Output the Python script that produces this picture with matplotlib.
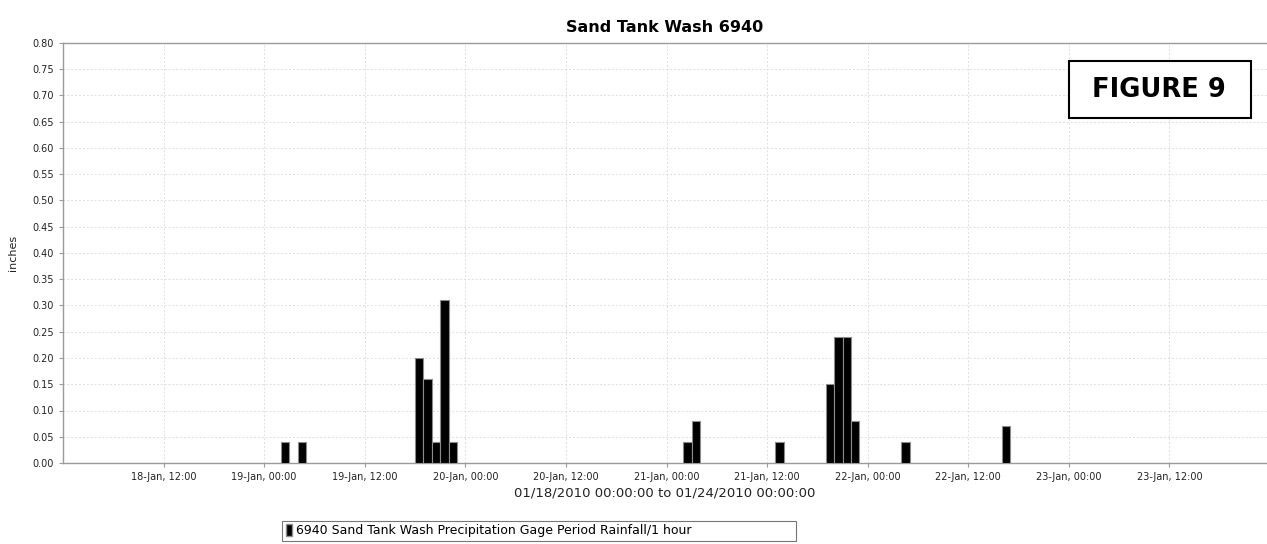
import matplotlib
matplotlib.use('Agg')
import matplotlib.pyplot as plt
import matplotlib.dates as mdates
from datetime import datetime, timedelta

# datos (hora de inicio del periodo, pulgadas)
inicio = datetime(2010, 1, 18, 0, 0)
horas = [26, 28, 42, 43, 44, 45, 46, 74, 75, 85, 91, 92, 93, 94, 100, 112]
lluvia = [0.04, 0.04, 0.20, 0.16, 0.04, 0.31, 0.04, 0.04, 0.08, 0.04,
          0.15, 0.24, 0.24, 0.08, 0.04, 0.07]
titulo = 'Sand Tank Wash 6940'
etiquetaSerie = '6940 Sand Tank Wash Precipitation Gage Period Rainfall/1 hour'
etiquetaX = '01/18/2010 00:00:00 to 01/24/2010 00:00:00'

fechas = [inicio + timedelta(hours=h) for h in horas]

fig = plt.figure(figsize=(12.67, 5.44), dpi=100)
ax = fig.add_axes([63 / 1267, 81 / 544, (1270 - 63) / 1267, 420 / 544])

gris = '#9a9a9a'
ax.bar(fechas, lluvia, width=1 / 24, align='edge', color='black',
       edgecolor='#8c8c8c', linewidth=0.8, zorder=3)

ax.set_xlim(inicio, inicio + timedelta(days=6))
ax.set_ylim(0, 0.80)
ax.set_yticks([i * 0.05 for i in range(17)])
ax.yaxis.set_major_formatter(plt.FuncFormatter(lambda v, p: '%.2f' % v))
ax.xaxis.set_major_formatter(mdates.DateFormatter('%d-%b, %H:%M'))
ticks = [inicio + timedelta(hours=12 * k) for k in range(1, 12)]
ax.set_xticks(ticks)

ax.grid(True, color='#dddddd', linestyle=(0, (2, 2)), linewidth=0.7, zorder=0)
for lado in ['left', 'bottom', 'top']:
    ax.spines[lado].set_color(gris)
    ax.spines[lado].set_linewidth(1.0)
ax.spines['right'].set_visible(False)
ax.tick_params(axis='both', colors=gris, labelcolor='#222222', labelsize=7,
               length=3, width=0.8)

ax.set_ylabel('inches', fontsize=8, color='#222222', labelpad=10)
ax.set_title(titulo, fontsize=11.5, fontweight='bold', pad=8,
             x=(665 - 63) / (1270 - 63))
ax.set_xlabel(etiquetaX, fontsize=9.5, color='#222222', labelpad=3,
              x=(665 - 63) / (1270 - 63))

# cuadro FIGURE 9
fig.patches.append(plt.Rectangle((1069 / 1267, 1 - 118 / 544), 182 / 1267, 57 / 544,
                                 transform=fig.transFigure, facecolor='white',
                                 edgecolor='black', linewidth=1.5, zorder=5))
fig.text(1159 / 1267, 1 - 90 / 544, 'FIGURE 9', ha='center', va='center',
         fontsize=18.5, fontweight='bold', zorder=6)

# leyenda
leg = fig.legend(handles=[plt.Rectangle((0, 0), 1, 1, facecolor='black',
                                        edgecolor='#8c8c8c')],
                 labels=[etiquetaSerie], loc='lower left',
                 bbox_to_anchor=(282 / 1267, 3 / 544, (796 - 282) / 1267, 24 / 544),
                 mode='expand', fontsize=9, frameon=True, fancybox=False,
                 handlelength=0.5, handleheight=1.0, handletextpad=0.3,
                 borderpad=0.3, borderaxespad=0)
leg.get_frame().set_edgecolor('#555555')
leg.get_frame().set_linewidth(0.8)

fig.savefig('out.png', dpi=100)
